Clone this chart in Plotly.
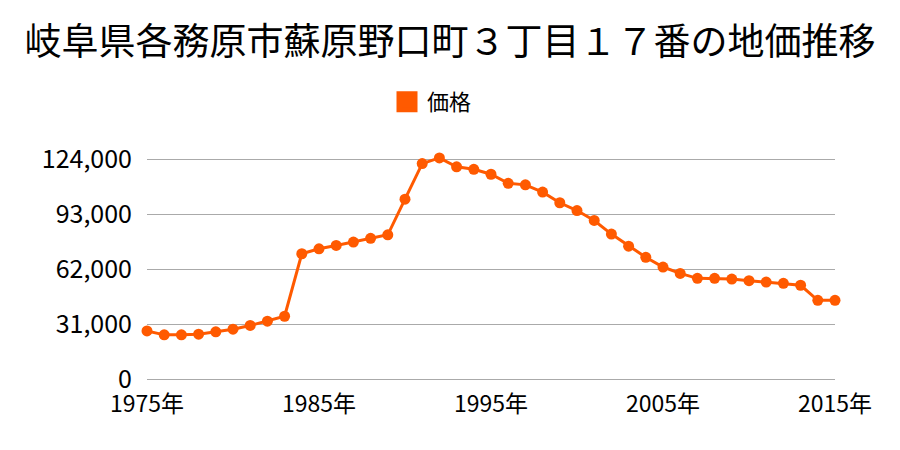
import plotly.graph_objects as go

years = list(range(1975, 2016))
prices = [27200, 25000, 25000, 25400, 26700, 28200, 30300, 32700, 35500,
          70800, 73600, 75500, 77400, 79500, 81500, 101600, 121700, 124900,
          119900, 118500, 115700, 110600, 109700, 105600, 99600, 95200, 89600,
          81900, 75100, 68800, 63300, 59700, 56900, 56900, 56500, 55600,
          54800, 54100, 53000, 44500, 44500]
series_name = "価格"
title_text = "岐阜県各務原市蘇原野口町３丁目１７番の地価推移"
y_ticks = [0, 31000, 62000, 93000, 124000]
y_tick_labels = ["0", "31,000", "62,000", "93,000", "124,000"]
x_ticks = [1975, 1985, 1995, 2005, 2015]
x_tick_labels = ["1975年", "1985年", "1995年", "2005年", "2015年"]

color = "#ff5a00"
font_family = "Noto Sans CJK JP"

fig = go.Figure()
fig.add_trace(go.Scatter(
    x=years, y=prices, name=series_name, mode="lines+markers",
    line=dict(color=color, width=3),
    marker=dict(color=color, size=11),
    cliponaxis=False, showlegend=False,
))
# legend-only entry with a square swatch
fig.add_trace(go.Scatter(
    x=[None], y=[None], name=series_name, mode="markers",
    marker=dict(color=color, symbol="square", size=16,
                line=dict(color=color, width=5)),
    showlegend=True,
))

fig.update_layout(
    width=900, height=450,
    margin=dict(l=147, r=65, t=155.5, b=70.1),
    paper_bgcolor="white", plot_bgcolor="white",
    font=dict(family=font_family, color="black", size=22),
    title=dict(text=title_text, x=0.5, xanchor="center", yref="container",
               y=1 - 42/450, yanchor="middle",
               font=dict(size=37, family=font_family)),
    showlegend=True,
    legend=dict(orientation="h", x=432/900, xref="container", xanchor="center",
                y=1 - 102/450, yref="container",
                yanchor="middle", font=dict(size=22), itemsizing="trace"),
    xaxis=dict(range=[1975, 2015], tickvals=x_ticks, ticktext=x_tick_labels,
               showgrid=False, zeroline=False, showline=False, ticks="",
               ticklabelstandoff=8, tickfont=dict(size=23)),
    yaxis=dict(range=[-500, 126000], tickvals=y_ticks, ticktext=y_tick_labels,
               showgrid=True, gridcolor="#aaaaaa", gridwidth=1,
               zeroline=True, zerolinecolor="#aaaaaa", zerolinewidth=1,
               showline=False, ticks="", ticklabelstandoff=14,
               tickfont=dict(size=25)),
)

fig.write_html("out.html")
